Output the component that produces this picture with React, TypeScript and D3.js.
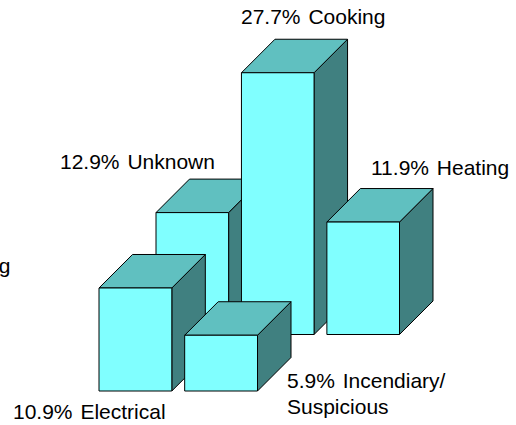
import React from "react";
import * as d3 from "d3";

const backCategories = ["Unknown", "Cooking", "Heating"];
const backValues = [12.9, 27.7, 11.9];
const frontCategories = ["Electrical", "Incendiary"];
const frontValues = [10.9, 5.9];

const W = 516, H = 425;
const heightScale = d3.scaleLinear().domain([0, 10]).range([0, 94.5]);
const backX = d3.scaleBand<string>().domain(backCategories).range([156, 399.5]).paddingInner(0.15);
const frontX = d3.scaleBand<string>().domain(frontCategories).range([99, 257.5]).paddingInner(0.15);
const DEPTH = 33.5;
const BACK_BASE = 334.5;
const FRONT_BASE = 391;

const poly = d3.line<[number, number]>().curve(d3.curveLinearClosed);

function Bar({ x, w, base, value }: { x: number; w: number; base: number; value: number }) {
  const top = base - heightScale(value);
  const stroke = { stroke: "#000", strokeWidth: 1, strokeLinejoin: "round" as const };
  return (
    <g>
      <path d={poly([[x + w, top], [x + w + DEPTH, top - DEPTH], [x + w + DEPTH, base - DEPTH], [x + w, base]])!} fill="#408080" {...stroke} />
      <path d={poly([[x, top], [x + DEPTH, top - DEPTH], [x + w + DEPTH, top - DEPTH], [x + w, top]])!} fill="#60C0C0" {...stroke} />
      <rect x={x} y={top} width={w} height={base - top} fill="#80FFFF" {...stroke} />
    </g>
  );
}

const labelStyle: React.CSSProperties = { fontFamily: "'Liberation Sans', Arial, sans-serif", fontSize: 21, fill: "#000", wordSpacing: 2 };

export default function App() {
  return (
    <svg width={W} height={H} viewBox={`0 0 ${W} ${H}`} style={{ position: "fixed", left: 0, top: 0, background: "#fff" }}>
      {backCategories.map((c, i) => (
        <Bar key={c} x={backX(c)!} w={backX.bandwidth()} base={BACK_BASE} value={backValues[i]} />
      ))}
      {frontCategories.map((c, i) => (
        <Bar key={c} x={frontX(c)!} w={frontX.bandwidth()} base={FRONT_BASE} value={frontValues[i]} />
      ))}
      <text x={241} y={23.5} style={labelStyle}>27.7% Cooking</text>
      <text x={60} y={169} style={labelStyle}>12.9% Unknown</text>
      <text x={371} y={175} style={labelStyle}>11.9% Heating</text>
      <text x={10.5} y={273} textAnchor="end" style={labelStyle}>Smoking</text>
      <text x={13} y={419} style={labelStyle}>10.9% Electrical</text>
      <text x={287} y={388} style={labelStyle}>5.9% Incendiary/</text>
      <text x={287} y={414} style={labelStyle}>Suspicious</text>
    </svg>
  );
}
